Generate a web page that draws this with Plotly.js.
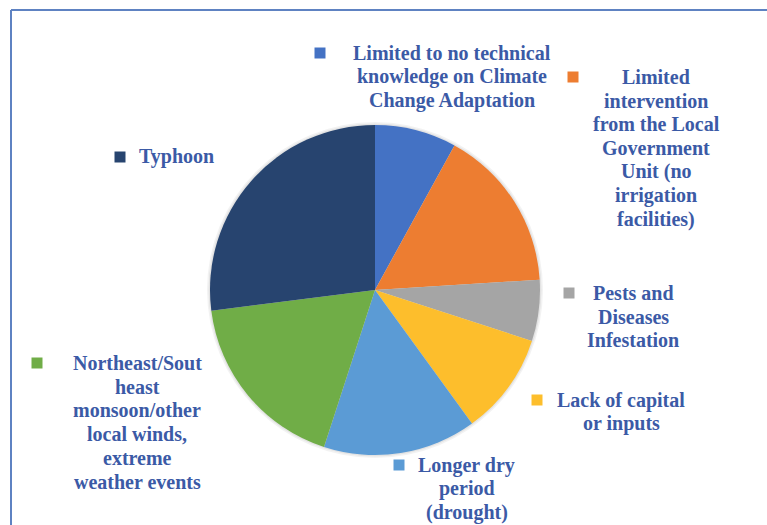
<!DOCTYPE html>
<html>
<head>
<meta charset="utf-8">
<script src="https://cdn.plot.ly/plotly-3.0.1.min.js"></script>
<style>
  html, body { margin: 0; padding: 0; background: #ffffff; }
  #chart { width: 767px; height: 525px; }
</style>
</head>
<body>
<div id="chart"></div>
<script>
// ---- data ----
const categories = [
  "Limited to no technical knowledge on Climate Change Adaptation",
  "Limited intervention from the Local Government Unit (no irrigation facilities)",
  "Pests and Diseases Infestation",
  "Lack of capital or inputs",
  "Longer dry period (drought)",
  "Northeast/Southeast monsoon/other local winds, extreme weather events",
  "Typhoon"
];
const values = [8, 16, 6, 10, 15, 18, 27];
const labelLines = [
  ["Limited to no technical", "knowledge on Climate", "Change Adaptation"],
  ["Limited", "intervention", "from the Local", "Government", "Unit (no", "irrigation", "facilities)"],
  ["Pests and", "Diseases", "Infestation"],
  ["Lack of capital", "or inputs"],
  ["Longer dry", "period", "(drought)"],
  ["Northeast/Sout", "heast", "monsoon/other", "local winds,", "extreme", "weather events"],
  ["Typhoon"]
];

// ---- styling / layout ----
const colors = ["#4472C4", "#ED7D31", "#A5A5A5", "#FDBE2C", "#5B9BD5", "#70AD47", "#27446F"];
const W = 767, H = 525;
// label block anchor positions in pixels: text centre x, first-line y, key square x
const labelPos = [
  {cx: 452, y0: 53,  sx: 320},
  {cx: 656, y0: 77,  sx: 573},
  {cx: 633, y0: 293, sx: 569},
  {cx: 621, y0: 400, sx: 537},
  {cx: 467, y0: 465, sx: 399},
  {cx: 137, y0: 363, sx: 37},
  {cx: 176, y0: 157, sx: 120}
];
const lineGap = 23.7;
const textColor = "#3B5AA6";
const px = x => x / W;
const py = y => 1 - y / H;

const annotations = [];
const shapes = [];
// soft shadow behind the pie
shapes.push({type: "circle", xref: "paper", yref: "paper", layer: "below",
  x0: px(375 - 168), x1: px(375 + 168), y0: py(290 + 168), y1: py(290 - 168),
  fillcolor: "rgba(0,0,0,0.05)", line: {width: 0}});
shapes.push({type: "circle", xref: "paper", yref: "paper", layer: "below",
  x0: px(375 - 166.5), x1: px(375 + 166.5), y0: py(290 + 166.5), y1: py(290 - 166.5),
  fillcolor: "rgba(0,0,0,0.06)", line: {width: 0}});

labelLines.forEach((lines, i) => {
  const p = labelPos[i];
  lines.forEach((ln, j) => {
    annotations.push({
      xref: "paper", yref: "paper",
      x: px(p.cx), y: py(p.y0 + j * lineGap),
      xanchor: "center", yanchor: "middle",
      showarrow: false, text: ln,
      font: {family: "Liberation Serif, Times New Roman, serif", size: 20, color: textColor, weight: "bold"}
    });
  });
  const s = 11;
  shapes.push({
    type: "rect", xref: "paper", yref: "paper",
    x0: px(p.sx - s / 2), x1: px(p.sx + s / 2),
    y0: py(p.y0 + s / 2), y1: py(p.y0 - s / 2),
    fillcolor: colors[i], line: {width: 0}
  });
});
// chart frame (left and top edges)
shapes.push({type: "line", xref: "paper", yref: "paper", x0: px(11), x1: px(11), y0: 0, y1: py(10), line: {color: "#5E82C2", width: 2}});
shapes.push({type: "line", xref: "paper", yref: "paper", x0: px(11), x1: 1, y0: py(10), y1: py(10), line: {color: "#5E82C2", width: 2}});

const trace = {
  type: "pie",
  labels: categories,
  values: values,
  sort: false,
  direction: "clockwise",
  rotation: 0,
  textinfo: "none",
  marker: {colors: colors, line: {width: 0}},
  domain: {x: [px(210), px(540)], y: [py(455), py(125)]},
  showlegend: false
};

const layout = {
  width: W, height: H,
  margin: {l: 0, r: 0, t: 0, b: 0},
  paper_bgcolor: "#ffffff",
  showlegend: false,
  annotations: annotations,
  shapes: shapes
};

Plotly.newPlot("chart", [trace], layout, {displayModeBar: false, staticPlot: true});
</script>
</body>
</html>
